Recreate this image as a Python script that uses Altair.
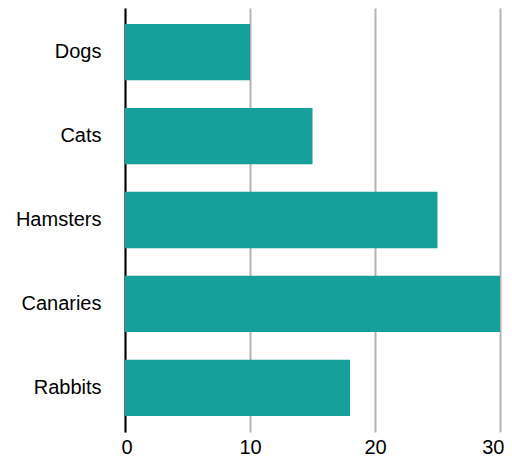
import altair as alt
import pandas as pd

animals = ["Dogs", "Cats", "Hamsters", "Canaries", "Rabbits"]
counts = [10, 15, 25, 30, 18]
x_ticks = [0, 10, 20, 30]

df = pd.DataFrame({"animal": animals, "count": counts})

FONT = "Liberation Sans"

chart = alt.Chart(df).mark_bar(color="#16a09c").encode(
    x=alt.X(
        "count:Q",
        scale=alt.Scale(domain=[0, 30], nice=False),
        axis=alt.Axis(
            values=x_ticks,
            title=None,
            domain=False,
            ticks=False,
            grid=True,
            gridColor="#b3b3b3",
            gridWidth=2,
            labelFont=FONT,
            labelFontSize=20,
            labelColor="#000000",
            labelPadding=5,
            labelFlush=True,
            labelFlushOffset=4,
        ),
    ),
    y=alt.Y(
        "animal:N",
        sort=animals,
        scale=alt.Scale(paddingInner=0.33, paddingOuter=0.19),
        axis=alt.Axis(
            title=None,
            domain=True,
            domainColor="#000000",
            domainWidth=2,
            ticks=False,
            grid=False,
            labelFont=FONT,
            labelFontSize=20,
            labelColor="#000000",
            labelPadding=24,
        ),
    ),
).properties(
    width=375,
    height=424,
    autosize=alt.AutoSizeParams(type="none"),
    padding={"left": 117, "top": 0, "right": 4, "bottom": 24},
).configure_view(stroke=None).configure_axis(gridOpacity=1)

chart.save("out.html", embed_options={"renderer": "svg", "actions": False})
